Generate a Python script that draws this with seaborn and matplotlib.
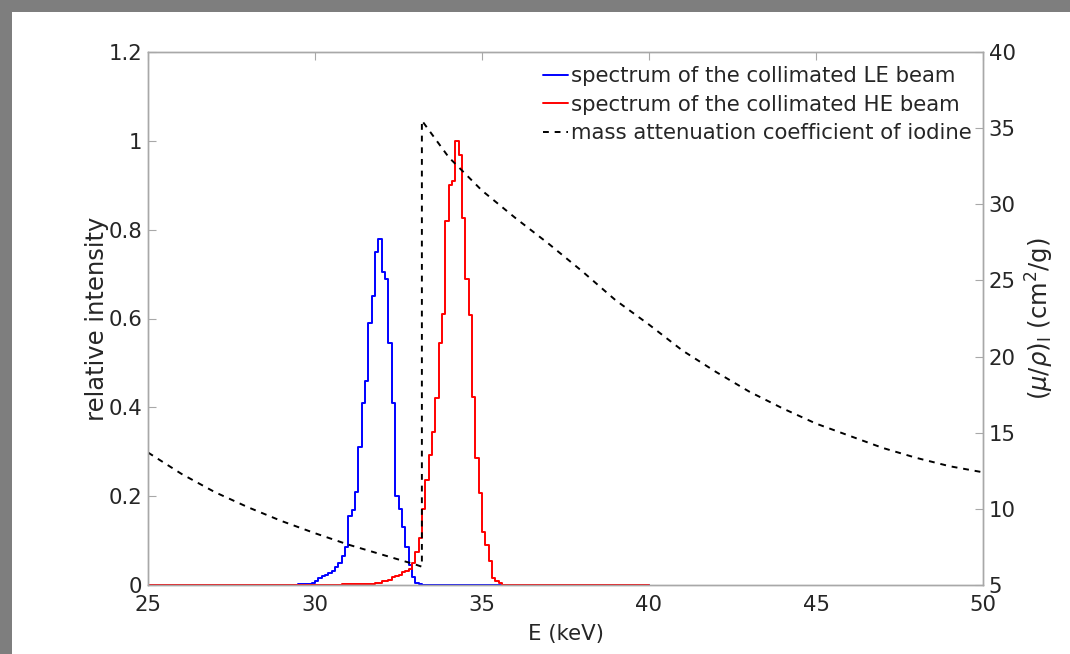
import matplotlib
matplotlib.use("Agg")
import matplotlib.pyplot as plt
import seaborn as sns
import pandas as pd
from matplotlib.patches import Rectangle

# ---------------- data ----------------
# LE spectrum (step histogram, left bin edges in keV and relative intensity)
le_energy = [25.0, 29.5, 29.6, 29.7, 29.8, 29.9, 30.0, 30.1, 30.2, 30.3, 30.4,
             30.5, 30.6, 30.7, 30.8, 30.9, 31.0, 31.1, 31.2, 31.3, 31.4, 31.5,
             31.6, 31.7, 31.8, 31.9, 32.0, 32.1, 32.2, 32.3, 32.4, 32.5, 32.6,
             32.7, 32.8, 32.9, 33.0, 33.1, 33.2, 40.0]
le_intensity = [0.0, 0.002, 0.002, 0.002, 0.003, 0.004, 0.010, 0.016, 0.020, 0.022, 0.027,
                0.032, 0.040, 0.050, 0.065, 0.085, 0.155, 0.168, 0.210, 0.310, 0.410, 0.460,
                0.590, 0.650, 0.750, 0.778, 0.705, 0.688, 0.545, 0.410, 0.200, 0.170, 0.130,
                0.086, 0.045, 0.018, 0.005, 0.002, 0.0, 0.0]

# HE spectrum
he_energy = [25.0, 30.8, 31.8, 32.0, 32.1, 32.2, 32.3, 32.4, 32.5, 32.6, 32.7,
             32.8, 32.9, 33.0, 33.1, 33.2, 33.3, 33.4, 33.5, 33.6, 33.7, 33.8,
             33.9, 34.0, 34.1, 34.2, 34.3, 34.4, 34.5, 34.6, 34.7, 34.8, 34.9,
             35.0, 35.1, 35.2, 35.3, 35.4, 35.5, 35.6, 40.0]
he_intensity = [0.0, 0.003, 0.005, 0.008, 0.010, 0.012, 0.018, 0.020, 0.022, 0.030, 0.032,
                0.035, 0.050, 0.075, 0.105, 0.170, 0.236, 0.293, 0.345, 0.420, 0.545, 0.610,
                0.820, 0.900, 0.910, 1.000, 0.968, 0.826, 0.690, 0.608, 0.424, 0.286, 0.207,
                0.120, 0.090, 0.055, 0.015, 0.010, 0.004, 0.0, 0.0]

# mass attenuation coefficient of iodine (cm^2/g)
mu_energy = [25.0, 26.0, 27.0, 28.0, 29.0, 30.0, 31.0, 32.0, 33.0, 33.2,
             33.2, 34.0, 35.0, 36.0, 37.0, 38.0, 39.0, 40.0, 41.0, 42.0,
             43.0, 44.0, 45.0, 46.0, 47.0, 48.0, 49.0, 50.0]
mu_value = [13.7, 12.3, 11.1, 10.1, 9.2, 8.4, 7.65, 7.0, 6.35, 6.2,
            35.5, 33.1, 30.9, 29.1, 27.4, 25.6, 23.7, 22.1, 20.4, 19.0,
            17.7, 16.6, 15.6, 14.8, 14.0, 13.35, 12.8, 12.4]

labels = ["spectrum of the collimated LE beam",
          "spectrum of the collimated HE beam",
          "mass attenuation coefficient of iodine"]

# ---------------- figure ----------------
sns.set_style("white")
plt.rcParams["font.family"] = ["DejaVu Sans"]

fig = plt.figure(figsize=(10.70, 6.54), dpi=100)
fig.patch.set_facecolor("#7e7e7e")
bg = Rectangle((12 / 1070, 0), 1 - 12 / 1070, 1 - 12 / 654,
               transform=fig.transFigure, facecolor="white",
               edgecolor="none", zorder=-10)
fig.patches.append(bg)

ax = fig.add_axes([148 / 1070, 1 - 585 / 654, (983 - 148) / 1070, (585 - 52) / 654])
ax2 = ax.twinx()
ax.patch.set_alpha(0)
ax2.patch.set_alpha(0)

df_le = pd.DataFrame({"E": le_energy, "I": le_intensity})
df_he = pd.DataFrame({"E": he_energy, "I": he_intensity})

sns.lineplot(data=df_le, x="E", y="I", ax=ax, color="#0000ff", lw=1.4,
             drawstyle="steps-post", sort=False, label=labels[0], legend=False)
sns.lineplot(data=df_he, x="E", y="I", ax=ax, color="#ff0000", lw=1.4,
             drawstyle="steps-post", sort=False, label=labels[1], legend=False)
ax2.plot(mu_energy, mu_value, color="black", lw=1.4, linestyle=(0, (3, 3)),
         label=labels[2])

ax.set_xlim(25, 50)
ax.set_ylim(0, 1.2)
ax2.set_ylim(5, 40)
ax.set_xticks([25, 30, 35, 40, 45, 50])
ax.set_xticklabels(["25", "30", "35", "40", "45", "50"])
ax.set_yticks([0, 0.2, 0.4, 0.6, 0.8, 1.0, 1.2])
ax.set_yticklabels(["0", "0.2", "0.4", "0.6", "0.8", "1", "1.2"])
ax2.set_yticks([5, 10, 15, 20, 25, 30, 35, 40])

fs = 15.3
fs_v = 17.5
spine_c = "#a8a8a8"
for a in (ax, ax2):
    for s in a.spines.values():
        s.set_color(spine_c)
        s.set_linewidth(1.0)
ax.tick_params(axis="both", direction="in", length=6, width=0.8, color=spine_c,
               labelsize=fs, top=True, right=False, pad=4)
ax.tick_params(axis="x", pad=7)
ax2.tick_params(axis="y", direction="in", length=6, width=0.8, color=spine_c,
                labelsize=fs, pad=4)

ax.set_xlabel("E (keV)", fontsize=fs, labelpad=7)
ax.set_ylabel("relative intensity", fontsize=fs_v, labelpad=0)
ax2.set_ylabel(r"$(\mu/\rho)_\mathrm{I}$ (cm$^2$/g)", fontsize=fs_v, labelpad=6)

h1, l1 = ax.get_legend_handles_labels()
h2, l2 = ax2.get_legend_handles_labels()
leg = ax2.legend(h1 + h2, l1 + l2, loc="upper right", frameon=False, fontsize=fs,
                 handlelength=1.2, handletextpad=0.1, borderaxespad=0.15,
                 labelspacing=0.4, bbox_to_anchor=(1.0, 0.995))

fig.savefig("out.png", dpi=100, facecolor=fig.get_facecolor())
